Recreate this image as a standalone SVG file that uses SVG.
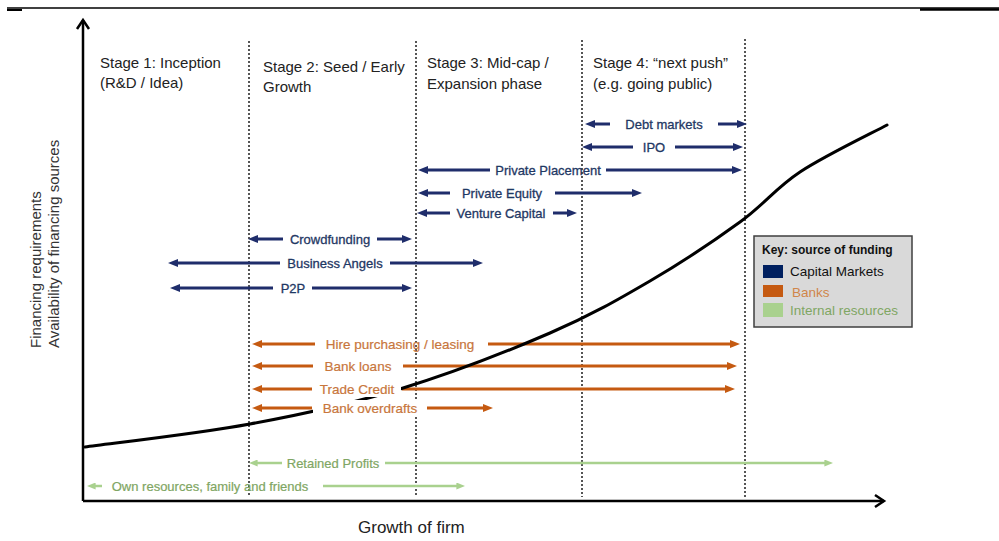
<svg xmlns="http://www.w3.org/2000/svg" width="999" height="541" viewBox="0 0 999 541">
  <defs>
    <style>
      text { font-family: "Liberation Sans", Arial, sans-serif; }
      .stage { font-size: 15px; fill: #222; }
      .axis-label { font-size: 15px; fill: #333; }
      .divider { stroke: #555; stroke-width: 2; stroke-dasharray: 2 2; fill: none; }
      .axis { stroke: #000; stroke-width: 2.5; fill: none; }
      .navy { stroke: #1f2d6b; stroke-width: 3; fill: none; }
      .orange { stroke: #c55a11; stroke-width: 3; fill: none; }
      .green { stroke: #a9d18e; stroke-width: 2.5; fill: none; }
      .navy.s { marker-start: url(#ah-navy); }
      .navy.e { marker-end: url(#ah-navy); }
      .orange.s { marker-start: url(#ah-orange); }
      .orange.e { marker-end: url(#ah-orange); }
      .green.s { marker-start: url(#ah-green); }
      .green.e { marker-end: url(#ah-green); }
      .lbl-navy { font-size: 13px; fill: #1f3864; stroke: #1f3864; stroke-width: 0.3; text-anchor: middle; }
      .lbl-orange { font-size: 13.5px; fill: #c8763c; stroke: #c8763c; stroke-width: 0.2; text-anchor: middle; }
      .lbl-green { font-size: 13px; fill: #7fa663; stroke: #7fa663; stroke-width: 0.2; text-anchor: middle; }
      .key-text { font-size: 13.5px; }
    </style>
    <marker id="ah-navy" viewBox="0 0 10 8" markerWidth="10" markerHeight="8" refX="3" refY="4" orient="auto-start-reverse" markerUnits="userSpaceOnUse">
      <path d="M0,0 L10,4 L0,8 z" fill="#1f2d6b"/>
    </marker>
    <marker id="ah-orange" viewBox="0 0 10 8" markerWidth="10" markerHeight="8" refX="3" refY="4" orient="auto-start-reverse" markerUnits="userSpaceOnUse">
      <path d="M0,0 L10,4 L0,8 z" fill="#c55a11"/>
    </marker>
    <marker id="ah-green" viewBox="0 0 10 8" markerWidth="9" markerHeight="7" refX="3" refY="4" orient="auto-start-reverse" markerUnits="userSpaceOnUse">
      <path d="M0,0 L10,4 L0,8 z" fill="#a9d18e"/>
    </marker>
  </defs>

  <rect width="999" height="541" fill="#fff"/>

  <!-- page rule -->
  <g id="page-rule" stroke="#000">
    <line x1="7" y1="8" x2="999" y2="8" stroke-width="1.5"/>
    <line x1="7" y1="10" x2="22" y2="10" stroke-width="2"/>
    <line x1="920" y1="9.5" x2="999" y2="9.5" stroke-width="2.5"/>
  </g>

  <!-- stage dividers -->
  <g id="dividers">
    <line class="divider" x1="249" y1="41" x2="249" y2="497"/>
    <line class="divider" x1="416" y1="41" x2="416" y2="497"/>
    <line class="divider" x1="582" y1="40" x2="582" y2="497"/>
    <line class="divider" x1="745" y1="39" x2="745" y2="497"/>
  </g>

  <!-- stage headings -->
  <g id="stage-1"><text class="stage" x="100" y="68">Stage 1: Inception</text><text class="stage" x="100" y="88">(R&amp;D / Idea)</text></g>
  <g id="stage-2"><text class="stage" x="263" y="72">Stage 2: Seed / Early</text><text class="stage" x="263" y="92">Growth</text></g>
  <g id="stage-3"><text class="stage" x="427" y="68">Stage 3: Mid-cap /</text><text class="stage" x="427" y="89">Expansion phase</text></g>
  <g id="stage-4"><text class="stage" x="593" y="68">Stage 4: “next push”</text><text class="stage" x="593" y="89">(e.g. going public)</text></g>

  <!-- funding source ranges -->
  <g id="connectors">
    <g id="debt-markets"><path class="navy s" d="M592,124 H610"/><path class="navy e" d="M718,124 H740"/></g>
    <g id="ipo"><path class="navy s" d="M589,147 H633"/><path class="navy e" d="M675,147 H736"/></g>
    <g id="private-placement"><path class="navy s" d="M425,170 H490"/><path class="navy e" d="M606,170 H735"/></g>
    <g id="private-equity"><path class="navy s" d="M425,193 H450"/><path class="navy e" d="M555,193 H635"/></g>
    <g id="venture-capital"><path class="navy s" d="M424,213 H450"/><path class="navy e" d="M553,213 H570"/></g>
    <g id="crowdfunding"><path class="navy s" d="M255,239 H283"/><path class="navy e" d="M377,239 H405"/></g>
    <g id="business-angels"><path class="navy s" d="M175,263 H280"/><path class="navy e" d="M390,263 H476"/></g>
    <g id="p2p"><path class="navy s" d="M177,288 H273"/><path class="navy e" d="M312,288 H405"/></g>

    <g id="hire-purchasing"><path class="orange s" d="M259,344 H315"/><path class="orange e" d="M488,344 H733"/></g>
    <g id="bank-loans"><path class="orange s" d="M259,366 H313"/><path class="orange e" d="M403,366 H730"/></g>
    <g id="trade-credit"><path class="orange s" d="M259,389 H312"/><path class="orange e" d="M402,389 H728"/></g>
    <g id="bank-overdrafts"><path class="orange s" d="M259,408 H312"/><path class="orange e" d="M427,408 H486"/></g>

    <g id="retained-profits"><path class="green s" d="M255,463 H282"/><path class="green e" d="M385,463 H827"/></g>
    <g id="own-resources"><path class="green s" d="M93,486 H102"/><path class="green e" d="M323,486 H459"/></g>
  </g>

  <!-- financing requirement curve -->
  <path id="requirement-curve" fill="none" stroke="#000" stroke-width="3" stroke-linecap="round"
        d="M85,447 C112.5,443.2 197.5,433.7 250,424 C302.5,414.3 350,404.2 400,389 C450,373.8 508.3,351 550,333 C591.7,315 618.3,299.5 650,281 C681.7,262.5 715,240.2 740,222 C765,203.8 775.5,188.2 800,172 C824.5,155.8 872.5,132.8 887,125"/>

  <!-- label backings where the curve runs behind the text -->
  <rect x="313" y="381" width="88" height="16" fill="#fff"/>
  <rect x="313" y="400" width="113" height="16" fill="#fff"/>

  <!-- range labels -->
  <g id="labels">
    <text class="lbl-navy" x="664" y="128.5">Debt markets</text>
    <text class="lbl-navy" x="654" y="151.5">IPO</text>
    <text class="lbl-navy" x="548" y="174.5">Private Placement</text>
    <text class="lbl-navy" x="502" y="197.5">Private Equity</text>
    <text class="lbl-navy" x="501" y="217.5">Venture Capital</text>
    <text class="lbl-navy" x="330" y="243.5">Crowdfunding</text>
    <text class="lbl-navy" x="335" y="267.5">Business Angels</text>
    <text class="lbl-navy" x="293" y="292.5">P2P</text>

    <text class="lbl-orange" x="400" y="348.5">Hire purchasing / leasing</text>
    <text class="lbl-orange" x="358" y="370.5">Bank loans</text>
    <text class="lbl-orange" x="357" y="393.5">Trade Credit</text>
    <text class="lbl-orange" x="370" y="412.5">Bank overdrafts</text>

    <text class="lbl-green" x="333" y="467.5">Retained Profits</text>
    <text class="lbl-green" x="210" y="490.5">Own resources, family and friends</text>
  </g>

  <!-- key -->
  <g id="key">
    <rect x="754" y="236" width="158" height="91" fill="#d9d9d9" stroke="#3f3f3f" stroke-width="1.5"/>
    <text x="762" y="254" font-size="12px" font-weight="bold" fill="#111">Key: source of funding</text>
    <rect x="763" y="265" width="20" height="13" fill="#002060"/>
    <text class="key-text" x="790" y="276" fill="#111">Capital Markets</text>
    <rect x="763" y="285" width="20" height="12" fill="#c55a11"/>
    <text class="key-text" x="792" y="297" fill="#d0864a">Banks</text>
    <rect x="763" y="303" width="20" height="14" fill="#a9d18e"/>
    <text class="key-text" x="790" y="315" fill="#7fa663">Internal resources</text>
  </g>

  <!-- axes -->
  <g id="axes">
    <path class="axis" d="M83,501 V20"/>
    <path class="axis" d="M77,29 L83,20 L89,29"/>
    <path class="axis" d="M83,501 H884"/>
    <path class="axis" d="M875,495 L884,501 L875,507"/>
  </g>
  <text class="axis-label" transform="translate(41,348) rotate(-90)">Financing requirements</text>
  <text class="axis-label" transform="translate(59,348) rotate(-90)">Availability of financing sources</text>
  <text x="358" y="533" font-size="17px" fill="#222">Growth of firm</text>
</svg>
